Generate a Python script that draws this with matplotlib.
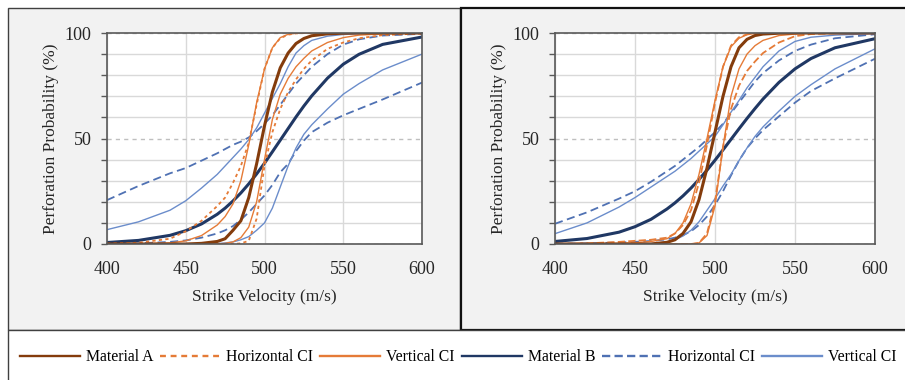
import matplotlib
matplotlib.use("Agg")
import matplotlib.pyplot as plt
from matplotlib.patches import Rectangle
from matplotlib.lines import Line2D

plt.rcParams['font.family'] = ['Liberation Serif', 'DejaVu Serif']

# strike velocity (m/s), shared sample points for every curve
velocity = [400, 420, 440, 450, 460, 470, 475, 480, 485, 490, 495, 500,
            505, 510, 515, 520, 525, 530, 540, 550, 560, 575, 600]

# ---- left panel, perforation probability (%) ----
l_mat_a = [0, 0, 0, 0, 0.3, 1.2, 2.5, 6.5, 11, 22, 38, 56,
           72, 83.5, 90.5, 95, 97.4, 98.7, 99.6, 99.9, 100, 100, 100]
l_a_hci_lo = [0.2, 0.6, 2.5, 6, 11, 18, 22, 29, 37, 48, 66, 83,
              93, 97.5, 99.2, 99.8, 100, 100, 100, 100, 100, 100, 100]
l_a_hci_hi = [0, 0, 0, 0, 0, 0, 0, 0, 0.3, 1.5, 12, 37,
              53, 64, 72, 78, 83, 87, 92.5, 95.5, 97.5, 99, 99.8]
l_a_vci_hi = [0, 0.1, 0.5, 1.5, 4, 9, 13, 19, 30, 47, 67, 83,
              93, 97.8, 99.4, 99.9, 100, 100, 100, 100, 100, 100, 100]
l_a_vci_lo = [0, 0, 0, 0, 0, 0, 0.3, 1, 3, 8, 20, 40,
              59, 71, 78.5, 84, 88, 91.5, 95.5, 97.8, 99, 99.6, 100]
l_mat_b = [0.7, 1.7, 4.1, 6.3, 9.5, 14.1, 17, 20.4, 24.2, 28.5, 33.2, 38.3,
           43.7, 49.2, 54.7, 60.2, 65.4, 70.2, 78.6, 85.2, 89.9, 94.6, 98.1]
l_b_hci_lo = [20.8, 27.5, 33.5, 36, 39.5, 43, 45, 47, 48.5, 50.5, 53.5, 57,
              61, 66, 71, 76, 80, 84, 90, 94.5, 97, 98.8, 99.6]
l_b_hci_hi = [0, 0.3, 1, 1.7, 3, 5, 6.5, 8.5, 11.5, 15, 19, 23,
              28, 34, 38, 44, 49, 53, 57.5, 61, 64, 68.5, 76.5]
l_b_vci_hi = [6.8, 10.5, 16, 20.5, 26.5, 33, 37, 41, 45, 49.5, 55, 62,
              69, 76, 84, 90.5, 94, 96.5, 98.5, 99.3, 99.6, 99.8, 99.9]
l_b_vci_lo = [0, 0, 0, 0, 0.1, 0.2, 0.5, 1, 2, 3.5, 6.5, 10,
              17, 27, 37, 45.5, 52, 56.5, 64, 71, 76, 82.5, 90]

# ---- right panel ----
r_mat_a = [0, 0, 0, 0, 0, 0.8, 2, 5, 10.5, 21, 36, 53,
           70, 84, 93, 97, 98.8, 99.5, 99.9, 100, 100, 100, 100]
r_a_hci_lo = [0, 0.3, 1, 1.5, 2, 3, 5, 9, 16, 29, 47, 67,
              84, 94, 98, 99.4, 100, 100, 100, 100, 100, 100, 100]
r_a_hci_hi = [0, 0, 0, 0, 0, 0, 0, 0, 0, 0.5, 5, 20,
              46, 64, 75, 82, 86.5, 90.5, 95.5, 98.5, 99.5, 99.9, 100]
r_a_vci_hi = [0, 0.1, 0.3, 0.6, 1.2, 2.5, 5, 10, 19, 33, 50, 68,
              84, 93.5, 97.5, 99.2, 99.8, 100, 100, 100, 100, 100, 100]
r_a_vci_lo = [0, 0, 0, 0, 0, 0, 0, 0, 0, 0.5, 4, 18,
              46, 70, 83, 90, 94, 96.5, 98.8, 99.5, 100, 100, 100]
r_mat_b = [1.2, 2.6, 5.6, 8.2, 11.7, 16.6, 19.5, 22.8, 26.5, 30.6, 35, 39.7,
           44.6, 49.6, 54.6, 59.5, 64.2, 68.7, 76.6, 83, 87.9, 93, 97.3]
r_b_hci_lo = [9.6, 15, 21.5, 25, 29.5, 34.5, 37, 40, 43, 46, 49.5, 53,
              57, 62, 67, 72, 77, 81, 87, 91.5, 94.5, 97.5, 99.4]
r_b_hci_hi = [0.1, 0.3, 0.7, 1, 1.4, 2.2, 3, 4.2, 6, 9, 13, 18.5,
              25, 32.5, 39.5, 45.5, 50, 54, 60.5, 67, 72.5, 78.5, 87.8]
r_b_vci_hi = [4.9, 10, 17.5, 22, 27, 32, 34.5, 37.5, 40.5, 44, 47.5, 51,
              56.5, 62.5, 68, 74, 79, 84, 91.5, 96, 98, 99, 99.7]
r_b_vci_lo = [0, 0, 0, 0, 0.2, 1, 2, 3.8, 6.5, 10.5, 16, 21.5,
              27.5, 33, 39.5, 45.5, 51, 55.5, 63, 70, 75.5, 83, 92.5]

legend_labels = ['Material A', 'Horizontal CI', 'Vertical CI',
                 'Material B', 'Horizontal CI', 'Vertical CI']

brown = '#843C0C'
orange = '#E57B37'
navy = '#203864'
blue_dash = '#4F71B3'
blue_thin = '#6B8DCB'

W, H = 905, 380


def fx(p):
    return p / W


def fy(p):
    return 1 - p / H


fig = plt.figure(figsize=(9.05, 3.8), dpi=100)
fig.patch.set_facecolor('white')

# panel backgrounds like the report layout
fig.add_artist(Rectangle((fx(8), fy(330)), fx(452), 322 / H, transform=fig.transFigure,
                         facecolor='#f2f2f2', edgecolor='#404040', lw=1.0, zorder=0))
fig.add_artist(Rectangle((fx(461), fy(330)), fx(460), 322 / H, transform=fig.transFigure,
                         facecolor='#f2f2f2', edgecolor='#111111', lw=1.6, zorder=0))
fig.add_artist(Rectangle((fx(8), fy(400)), fx(910), 70 / H, transform=fig.transFigure,
                         facecolor='white', edgecolor='#404040', lw=1.0, zorder=0))


def draw_panel(ax, curves, odash):
    mat_a, a_hlo, a_hhi, a_vhi, a_vlo, mat_b, b_hlo, b_hhi, b_vhi, b_vlo = curves
    ax.plot(velocity, b_hlo, color=blue_dash, lw=1.3, dashes=(4.5, 2.5))
    ax.plot(velocity, b_hhi, color=blue_dash, lw=1.3, dashes=(4.5, 2.5))
    ax.plot(velocity, b_vhi, color=blue_thin, lw=1.0)
    ax.plot(velocity, b_vlo, color=blue_thin, lw=1.0)
    ax.plot(velocity, mat_b, color=navy, lw=2.2)
    ax.plot(velocity, a_hlo, color=orange, lw=1.3, dashes=odash)
    ax.plot(velocity, a_hhi, color=orange, lw=1.3, dashes=odash)
    ax.plot(velocity, a_vhi, color=orange, lw=1.0)
    ax.plot(velocity, a_vlo, color=orange, lw=1.0)
    ax.plot(velocity, mat_a, color=brown, lw=2.2)

    ax.set_xlim(400, 600)
    ax.set_ylim(0, 100)
    ax.set_xticks([400, 450, 500, 550, 600])
    ax.set_yticks([0, 50, 100])
    ax.set_yticks(range(10, 100, 10), minor=True)
    ax.set_facecolor('white')
    ax.set_axisbelow(True)
    ax.grid(axis='x', which='major', color='#d9d9d9', lw=1.0)
    ax.grid(axis='y', which='minor', color='#d9d9d9', lw=1.0)
    ax.grid(axis='y', which='major', color='#bfbfbf', lw=1.0, dashes=(3, 3))
    for s in ax.spines.values():
        s.set_color('#595959')
        s.set_linewidth(1.2)
    ax.tick_params(axis='x', length=0, pad=12, labelsize=13, colors='#262626')
    ax.tick_params(axis='y', which='both', length=4, color='#595959', width=1.0)
    ax.tick_params(axis='y', which='major', pad=7, labelsize=13, labelcolor='#262626')
    ax.set_xlabel('Strike Velocity (m/s)', fontsize=12.5, color='#262626', labelpad=8)
    ax.set_ylabel('Perforation Probability (%)', fontsize=12.5, color='#262626', labelpad=4)


ax1 = fig.add_axes([fx(107), 1 - 244 / H, 315 / W, 211 / H])
ax2 = fig.add_axes([fx(555), 1 - 244 / H, 320 / W, 211 / H])

draw_panel(ax1, [l_mat_a, l_a_hci_lo, l_a_hci_hi, l_a_vci_hi, l_a_vci_lo,
                 l_mat_b, l_b_hci_lo, l_b_hci_hi, l_b_vci_hi, l_b_vci_lo], (1.8, 1.8))
draw_panel(ax2, [r_mat_a, r_a_hci_lo, r_a_hci_hi, r_a_vci_hi, r_a_vci_lo,
                 r_mat_b, r_b_hci_lo, r_b_hci_hi, r_b_vci_hi, r_b_vci_lo], (4, 1.8))

handles = [
    Line2D([], [], color=brown, lw=1.7),
    Line2D([], [], color=orange, lw=1.7, dashes=(2.5, 2)),
    Line2D([], [], color=orange, lw=1.7),
    Line2D([], [], color=navy, lw=1.7),
    Line2D([], [], color=blue_dash, lw=1.7, dashes=(3.5, 1.8)),
    Line2D([], [], color=blue_thin, lw=1.7),
]
fig.legend(handles, legend_labels, loc='center left', bbox_to_anchor=(fx(20), fy(357)),
           ncol=6, frameon=False, fontsize=11.3, handlelength=3.8, handletextpad=0.4,
           columnspacing=0.45, borderpad=0, borderaxespad=0)

fig.savefig('out.png', dpi=100)
